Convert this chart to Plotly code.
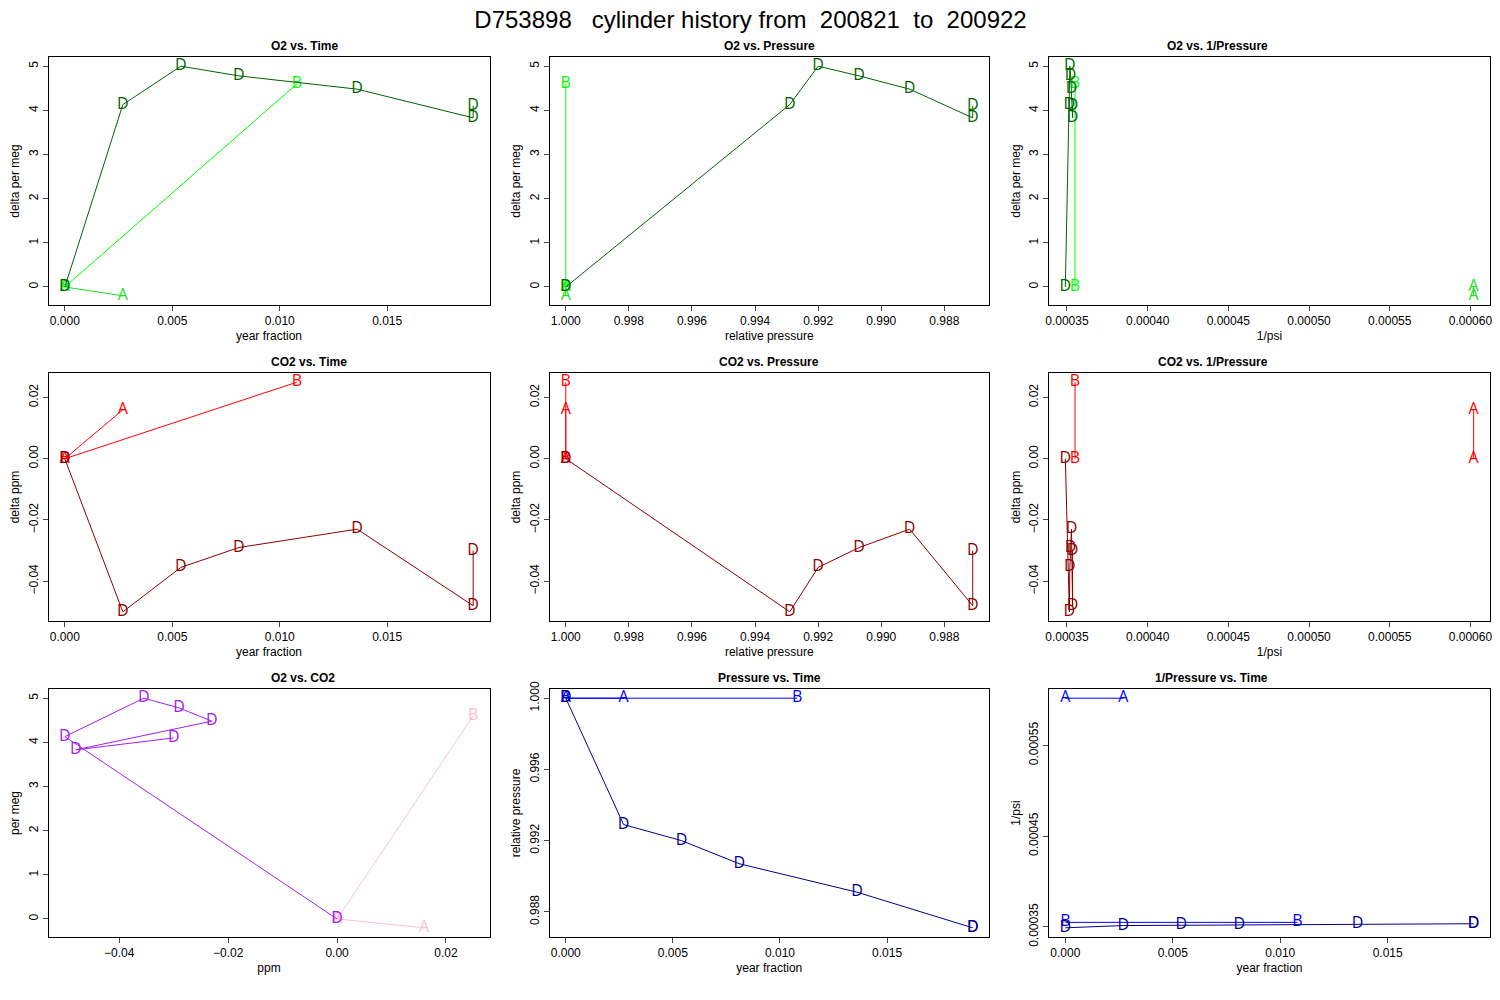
import plotly.graph_objects as go
from plotly.subplots import make_subplots

# cylinder history values read per sample letter
series = {
    'A': dict(t=[0, 0.0027], o2=[0, -0.2], co2=[0, 0.016], p=[1.0, 1.0], ip=[0.000602, 0.000602]),
    'B': dict(t=[0, 0.0108], o2=[0, 4.6], co2=[0, 0.025], p=[1.0, 1.0], ip=[0.000355, 0.000355]),
    'D': dict(t=[0, 0.0027, 0.0054, 0.0081, 0.0136, 0.019, 0.019],
              o2=[0, 4.13, 5.0, 4.78, 4.48, 3.83, 4.1],
              co2=[0, -0.050, -0.0355, -0.029, -0.023, -0.048, -0.030],
              p=[1.0, 0.9929, 0.9920, 0.9907, 0.9891, 0.9871, 0.9871],
              ip=[0.000349, 0.0003515, 0.0003518, 0.0003523, 0.0003528, 0.0003535, 0.0003535]),
}
colors = {
    'o2': {'A': '#22dd22', 'B': '#00ff00', 'D': '#006400'},
    'co2': {'A': '#ff0000', 'B': '#ff0000', 'D': '#8b0000'},
    'mix': {'A': '#ffc0cb', 'B': '#ffc0cb', 'D': '#a020f0'},
    'p': {'A': '#0000ff', 'B': '#0000ff', 'D': '#00008b'},
}
panels = [
    (1, 1, 't', 'o2', 'o2', 'O2 vs. Time', 'year fraction', 'delta per meg'),
    (1, 2, 'p', 'o2', 'o2', 'O2 vs. Pressure', 'relative pressure', 'delta per meg'),
    (1, 3, 'ip', 'o2', 'o2', 'O2 vs. 1/Pressure', '1/psi', 'delta per meg'),
    (2, 1, 't', 'co2', 'co2', 'CO2 vs. Time', 'year fraction', 'delta ppm'),
    (2, 2, 'p', 'co2', 'co2', 'CO2 vs. Pressure', 'relative pressure', 'delta ppm'),
    (2, 3, 'ip', 'co2', 'co2', 'CO2 vs. 1/Pressure', '1/psi', 'delta ppm'),
    (3, 1, 'co2', 'o2', 'mix', 'O2 vs. CO2', 'ppm', 'per meg'),
    (3, 2, 't', 'p', 'p', 'Pressure vs. Time', 'year fraction', 'relative pressure'),
    (3, 3, 't', 'ip', 'p', '1/Pressure vs. Time', 'year fraction', '1/psi'),
]

fig = make_subplots(rows=3, cols=3)
xdom = [[0.027, 0.321], [0.361, 0.654], [0.694, 0.988]]  # page body margin shifts everything by ~8px
ydom = [[0.703, 0.951], [0.387, 0.635], [0.071, 0.319]]
font = dict(family='Liberation Sans, Arial', size=12, color='black')

for r, c, xk, yk, ck, title, xt, yt in panels:
    xs, ys = [], []
    for name, d in series.items():
        col = colors[ck][name]
        fig.add_trace(go.Scatter(x=d[xk], y=d[yk], mode='lines+text', text=[name] * len(d[xk]),
                                 textposition='middle center', textfont=dict(size=16, color=col),
                                 line=dict(color=col, width=1), showlegend=False), row=r, col=c)
        xs += d[xk]
        ys += d[yk]
    xr = [min(xs) - 0.04 * (max(xs) - min(xs)), max(xs) + 0.04 * (max(xs) - min(xs))]
    yr = [min(ys) - 0.04 * (max(ys) - min(ys)), max(ys) + 0.04 * (max(ys) - min(ys))]
    if xk == 'p':
        xr = xr[::-1]
    axx = dict(domain=xdom[c - 1], range=xr, showgrid=False, zeroline=False, showline=True, mirror=True,
               linecolor='black', ticks='outside', tickfont=font, automargin=False,
               title=dict(text=xt, font=font, standoff=4))
    axy = dict(domain=ydom[r - 1], range=yr, showgrid=False, zeroline=False, showline=True, mirror=True,
               linecolor='black', ticks='outside', tickangle=-90, tickfont=font, automargin=False,
               title=dict(text=yt, font=font, standoff=4))
    if xk == 't':
        axx.update(dtick=0.005, tickformat='.3f')
    if xk == 'co2':
        axx.update(dtick=0.02, tickformat='.2f')
    if yk == 'co2':
        axy.update(dtick=0.02, tickformat='.2f')
    if xk == 'ip':
        axx.update(tick0=0.00035, dtick=0.00005, tickformat='.5f')
    if yk == 'ip':
        axy.update(tick0=0.00035, dtick=0.0001, tickformat='.5f')
    if yk == 'p':
        axy.update(dtick=0.004, tickformat='.3f')
    if xk == 'p':
        axx.update(dtick=0.002, tickformat='.3f')
    fig.update_xaxes(axx, row=r, col=c)
    fig.update_yaxes(axy, row=r, col=c)
    fig.add_annotation(text='<b>' + title + '</b>', x=sum(xdom[c - 1]) / 2, y=ydom[r - 1][1],
                       xref='paper', yref='paper', yanchor='bottom', showarrow=False, yshift=2,
                       font=dict(family='Liberation Sans, Arial', size=12, color='black'))

fig.update_layout(width=1500, height=1000, plot_bgcolor='white', paper_bgcolor='white',
                  margin=dict(l=0, r=0, t=0, b=0, autoexpand=False),
                  title=dict(text='D753898   cylinder history from  200821  to  200922', x=0.495, y=0.988,
                             xanchor='center', yanchor='middle', automargin=False,
                             font=dict(family='Liberation Sans, Arial', size=24, color='black')))
fig.write_html("out.html")
